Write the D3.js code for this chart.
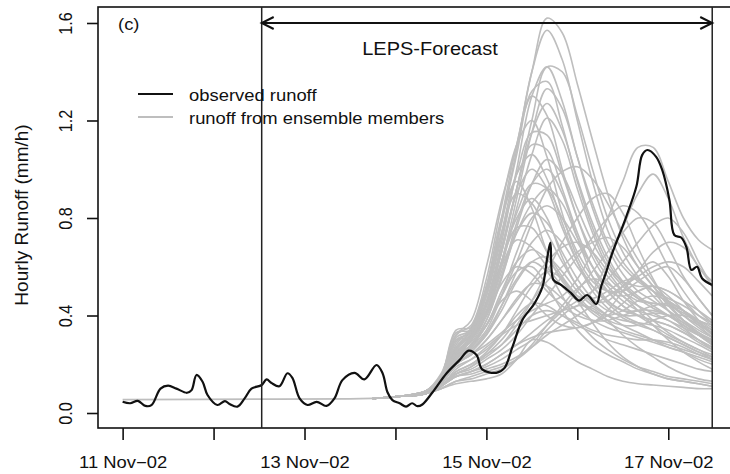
<!DOCTYPE html>
<html><head><meta charset="utf-8">
<script src="https://cdn.jsdelivr.net/npm/d3@7"></script>
<style>html,body{margin:0;padding:0;background:#fff;} svg{display:block;font-family:"Liberation Sans",Arial,sans-serif;}</style>
</head><body><svg id="c" width="730" height="474"></svg>
<script>
// ---- data ----
const dayTicks = [0, 24, 48, 72, 96, 120, 144];            // hours since 11 Nov-02 00:00
const dayLabels = ["11 Nov\u221202", "", "13 Nov\u221202", "", "15 Nov\u221202", "", "17 Nov\u221202"];
const yTicks = [0, 0.4, 0.8, 1.2, 1.6];
const yLabels = ["0.0", "0.4", "0.8", "1.2", "1.6"];
const forecastStart = 36.7, forecastEnd = 155.6;
const legendLabels = ["observed runoff", "runoff from ensemble members"];

const obsHours = [0,2,4,6,7.6,10,12,14.2,17,18.2,19.5,21.1,22.4,25,27,28.2,30.3,32.2,34,36.7,38,39.3,41.4,43.5,44.8,46.7,48.8,51.2,53.8,55.9,58,61.2,63.8,67,68.6,69.9,71.2,73.1,74.8,76.4,77.8,79.1,81.8,85.5,88.9,91.3,93.4,94.9,98.6,100.7,102.9,105.5,108.7,110.8,112.1,112.9,113.7,115.8,118.4,120.5,122.6,125,126.3,127.5,129.2,132.9,135.6,137.1,138.5,140.8,142.4,144.3,145.6,147.4,148.8,150.1,151.6,152.9,155.6];
const obsValues = [0.046,0.040,0.050,0.029,0.032,0.100,0.112,0.100,0.083,0.094,0.156,0.128,0.074,0.033,0.049,0.037,0.026,0.060,0.100,0.115,0.138,0.123,0.110,0.163,0.144,0.060,0.033,0.046,0.029,0.060,0.135,0.165,0.138,0.197,0.163,0.085,0.053,0.040,0.026,0.040,0.028,0.035,0.085,0.163,0.217,0.256,0.238,0.179,0.165,0.183,0.272,0.382,0.450,0.518,0.641,0.699,0.546,0.525,0.491,0.461,0.484,0.447,0.520,0.573,0.655,0.805,0.930,1.058,1.079,1.051,0.997,0.874,0.730,0.720,0.680,0.587,0.600,0.553,0.525];

const baseHours = [0, 36.7, 60, 66];
const baseValues = [0.055, 0.057, 0.058, 0.060];

const memberHours = [66,74,80,84,88,92,96,100,104,108,112,116,120,124,128,132,136,140,144,148,152,155.6];
const members = [
 [0.06,0.07,0.09,0.16,0.32,0.38,0.60,0.87,1.10,1.40,1.62,1.56,1.35,1.12,0.90,0.72,0.60,0.52,0.46,0.42,0.38,0.36],
 [0.06,0.07,0.08,0.13,0.26,0.34,0.50,0.78,1.08,1.40,1.57,1.45,1.20,0.95,0.75,0.62,0.55,0.50,0.45,0.40,0.36,0.33],
 [0.06,0.07,0.08,0.12,0.24,0.32,0.45,0.66,0.92,1.20,1.42,1.40,1.22,1.00,0.80,0.66,0.56,0.48,0.42,0.37,0.33,0.30],
 [0.06,0.07,0.09,0.14,0.30,0.33,0.46,0.70,1.00,1.30,1.42,1.28,1.05,0.84,0.68,0.57,0.50,0.46,0.42,0.38,0.34,0.31],
 [0.06,0.07,0.08,0.12,0.22,0.30,0.42,0.62,0.88,1.15,1.33,1.25,1.05,0.86,0.70,0.60,0.54,0.50,0.47,0.44,0.40,0.37],
 [0.06,0.07,0.08,0.13,0.25,0.31,0.44,0.66,0.92,1.15,1.27,1.16,0.96,0.78,0.64,0.54,0.48,0.44,0.40,0.36,0.32,0.29],
 [0.06,0.07,0.09,0.15,0.33,0.34,0.48,0.72,0.98,1.15,1.14,0.98,0.80,0.66,0.56,0.50,0.46,0.45,0.44,0.41,0.37,0.34],
 [0.06,0.07,0.08,0.13,0.24,0.30,0.44,0.66,0.92,1.10,1.08,0.92,0.74,0.60,0.50,0.44,0.40,0.36,0.32,0.29,0.26,0.24],
 [0.06,0.07,0.08,0.12,0.23,0.30,0.41,0.60,0.84,1.06,1.21,1.12,0.92,0.74,0.60,0.52,0.47,0.45,0.44,0.42,0.38,0.34],
 [0.06,0.07,0.09,0.14,0.28,0.35,0.52,0.78,1.06,1.32,1.36,1.18,0.95,0.76,0.62,0.53,0.47,0.43,0.40,0.36,0.32,0.29],
 [0.06,0.07,0.08,0.12,0.22,0.28,0.38,0.55,0.76,0.94,1.04,0.98,0.84,0.70,0.60,0.54,0.52,0.52,0.50,0.46,0.42,0.38],
 [0.06,0.07,0.08,0.13,0.26,0.32,0.45,0.68,0.90,1.00,0.92,0.76,0.62,0.52,0.45,0.40,0.37,0.34,0.31,0.28,0.25,0.23],
 [0.06,0.07,0.09,0.15,0.34,0.35,0.44,0.62,0.82,0.94,0.92,0.80,0.66,0.56,0.50,0.48,0.50,0.52,0.50,0.46,0.40,0.36],
 [0.06,0.07,0.08,0.14,0.27,0.34,0.50,0.74,0.90,0.86,0.74,0.62,0.52,0.45,0.40,0.36,0.33,0.30,0.27,0.25,0.23,0.21],
 [0.06,0.07,0.08,0.12,0.22,0.27,0.34,0.48,0.66,0.80,0.85,0.80,0.70,0.60,0.52,0.46,0.42,0.40,0.38,0.35,0.32,0.30],
 [0.06,0.07,0.08,0.13,0.25,0.30,0.40,0.58,0.74,0.82,0.78,0.66,0.55,0.47,0.42,0.40,0.40,0.41,0.40,0.37,0.33,0.30],
 [0.06,0.07,0.09,0.14,0.30,0.31,0.44,0.62,0.76,0.76,0.66,0.56,0.48,0.42,0.38,0.36,0.36,0.38,0.40,0.40,0.38,0.35],
 [0.06,0.07,0.08,0.12,0.21,0.26,0.32,0.44,0.58,0.70,0.75,0.70,0.60,0.52,0.46,0.42,0.40,0.38,0.36,0.33,0.30,0.27],
 [0.06,0.07,0.08,0.13,0.25,0.31,0.42,0.60,0.71,0.68,0.60,0.52,0.46,0.42,0.40,0.42,0.46,0.48,0.46,0.42,0.37,0.33],
 [0.06,0.07,0.08,0.12,0.23,0.28,0.36,0.50,0.62,0.67,0.63,0.55,0.47,0.41,0.37,0.34,0.32,0.30,0.28,0.26,0.24,0.22],
 [0.06,0.07,0.08,0.12,0.20,0.25,0.32,0.42,0.54,0.62,0.64,0.58,0.50,0.44,0.40,0.38,0.37,0.36,0.34,0.31,0.28,0.25],
 [0.06,0.07,0.08,0.13,0.24,0.30,0.40,0.53,0.60,0.57,0.50,0.44,0.40,0.38,0.38,0.40,0.42,0.42,0.40,0.36,0.32,0.28],
 [0.06,0.07,0.09,0.14,0.27,0.32,0.40,0.56,0.74,0.86,0.92,0.86,0.72,0.60,0.50,0.44,0.40,0.38,0.36,0.33,0.29,0.26],
 [0.06,0.07,0.08,0.13,0.26,0.33,0.48,0.74,0.98,1.06,0.96,0.78,0.62,0.50,0.43,0.39,0.36,0.34,0.31,0.28,0.25,0.22],
 [0.06,0.07,0.08,0.12,0.20,0.24,0.30,0.38,0.47,0.53,0.52,0.47,0.42,0.38,0.35,0.33,0.31,0.29,0.27,0.25,0.22,0.20],
 [0.06,0.07,0.08,0.12,0.19,0.22,0.26,0.32,0.40,0.45,0.44,0.40,0.36,0.33,0.30,0.28,0.26,0.24,0.22,0.20,0.18,0.17],
 [0.06,0.07,0.08,0.11,0.17,0.20,0.24,0.28,0.34,0.40,0.42,0.40,0.37,0.34,0.32,0.31,0.30,0.30,0.29,0.27,0.24,0.22],
 [0.06,0.07,0.08,0.10,0.12,0.13,0.14,0.16,0.22,0.30,0.29,0.25,0.21,0.18,0.15,0.13,0.12,0.115,0.11,0.105,0.10,0.10],
 [0.06,0.07,0.08,0.12,0.22,0.27,0.36,0.48,0.58,0.60,0.52,0.42,0.34,0.28,0.24,0.21,0.18,0.16,0.14,0.13,0.12,0.11],
 [0.06,0.07,0.08,0.12,0.21,0.26,0.33,0.44,0.55,0.62,0.58,0.48,0.38,0.31,0.26,0.22,0.19,0.17,0.15,0.14,0.13,0.12],
 [0.06,0.07,0.08,0.12,0.20,0.24,0.28,0.33,0.38,0.42,0.45,0.48,0.55,0.66,0.80,0.95,1.09,1.09,0.95,0.80,0.71,0.67],
 [0.06,0.07,0.08,0.11,0.18,0.22,0.27,0.32,0.36,0.38,0.40,0.42,0.44,0.50,0.62,0.76,0.90,0.98,0.88,0.72,0.60,0.54],
 [0.06,0.07,0.08,0.12,0.22,0.28,0.36,0.48,0.62,0.78,0.92,0.99,1.01,0.96,0.86,0.74,0.63,0.54,0.46,0.40,0.35,0.31],
 [0.06,0.07,0.08,0.11,0.16,0.18,0.22,0.26,0.32,0.40,0.48,0.56,0.64,0.72,0.80,0.85,0.82,0.72,0.60,0.50,0.42,0.37],
 [0.06,0.07,0.08,0.11,0.15,0.17,0.19,0.22,0.26,0.30,0.36,0.42,0.50,0.58,0.66,0.74,0.80,0.78,0.68,0.56,0.47,0.40],
 [0.06,0.07,0.08,0.11,0.16,0.19,0.24,0.30,0.38,0.46,0.54,0.60,0.66,0.70,0.72,0.68,0.60,0.52,0.44,0.38,0.33,0.29],
 [0.06,0.07,0.08,0.11,0.15,0.16,0.18,0.20,0.23,0.27,0.32,0.36,0.40,0.44,0.48,0.52,0.56,0.60,0.62,0.60,0.54,0.48],
 [0.06,0.07,0.08,0.10,0.13,0.14,0.16,0.18,0.22,0.28,0.36,0.44,0.51,0.55,0.53,0.48,0.42,0.36,0.30,0.25,0.21,0.18],
 [0.06,0.07,0.08,0.10,0.13,0.15,0.17,0.19,0.22,0.27,0.34,0.40,0.44,0.43,0.38,0.32,0.27,0.23,0.19,0.16,0.14,0.13],
 [0.06,0.07,0.08,0.11,0.15,0.17,0.20,0.24,0.28,0.31,0.33,0.34,0.35,0.37,0.40,0.45,0.50,0.52,0.48,0.42,0.36,0.31],
 [0.06,0.07,0.09,0.15,0.31,0.34,0.52,0.80,0.95,0.84,0.66,0.54,0.48,0.47,0.50,0.54,0.55,0.50,0.42,0.35,0.30,0.26],
 [0.06,0.07,0.08,0.13,0.25,0.29,0.40,0.62,0.80,0.88,0.80,0.64,0.52,0.46,0.46,0.52,0.58,0.62,0.56,0.46,0.38,0.32],
 [0.06,0.07,0.09,0.15,0.32,0.36,0.55,0.85,1.10,1.20,1.05,0.82,0.64,0.54,0.50,0.50,0.54,0.58,0.60,0.55,0.47,0.40],
 [0.06,0.07,0.08,0.11,0.16,0.19,0.23,0.28,0.36,0.46,0.58,0.70,0.80,0.88,0.90,0.82,0.68,0.55,0.45,0.38,0.32,0.28],
 [0.06,0.07,0.08,0.12,0.20,0.24,0.30,0.38,0.46,0.54,0.62,0.68,0.70,0.66,0.58,0.50,0.44,0.38,0.33,0.29,0.26,0.23],
 [0.06,0.07,0.08,0.12,0.22,0.28,0.36,0.46,0.50,0.46,0.40,0.36,0.35,0.37,0.42,0.50,0.58,0.66,0.70,0.68,0.60,0.52],
 [0.06,0.07,0.08,0.12,0.23,0.28,0.38,0.56,0.78,0.94,1.00,0.90,0.72,0.56,0.46,0.42,0.42,0.44,0.45,0.42,0.37,0.32],
 [0.06,0.07,0.08,0.11,0.17,0.20,0.25,0.32,0.42,0.52,0.58,0.55,0.46,0.37,0.29,0.23,0.19,0.16,0.14,0.13,0.12,0.11],
 [0.06,0.07,0.09,0.14,0.29,0.34,0.50,0.80,1.10,1.30,1.22,1.00,0.80,0.64,0.54,0.48,0.44,0.41,0.38,0.34,0.30,0.27],
 [0.06,0.07,0.08,0.11,0.15,0.17,0.20,0.24,0.28,0.33,0.38,0.42,0.46,0.50,0.55,0.62,0.70,0.77,0.80,0.74,0.62,0.52]
];

// ---- drawing ----
const W = 730, H = 474;
const svg = d3.select("#c");
const x = d3.scaleLinear().domain([-6.5, 169]).range([98, 763]);
const y = d3.scaleLinear().domain([-0.0615, 1.6656]).range([428, 7]);
const GREY = "#bebebe";
const FS = 18.4, VS = 0.88;

svg.append("defs").append("clipPath").attr("id", "clip")
  .append("rect").attr("x", x.range()[0]).attr("y", y.range()[1])
  .attr("width", W - x.range()[0]).attr("height", y.range()[0] - y.range()[1]);

const line = d3.line().x(d => x(d[0])).y(d => y(d[1])).curve(d3.curveCatmullRom.alpha(0.5));
const plot = svg.append("g").attr("clip-path", "url(#clip)");

plot.append("path").datum(baseHours.map((h, i) => [h, baseValues[i]]))
  .attr("d", line).attr("fill", "none").attr("stroke", GREY).attr("stroke-width", 1.8);
plot.selectAll("path.member").data(members).join("path").attr("class", "member")
  .attr("d", m => line(memberHours.map((h, i) => [h, m[i]])))
  .attr("fill", "none").attr("stroke", GREY).attr("stroke-width", 1.6).attr("stroke-linejoin", "round");
plot.append("path").datum(obsHours.map((h, i) => [h, obsValues[i]]))
  .attr("d", line).attr("fill", "none").attr("stroke", "#111").attr("stroke-width", 2.2).attr("stroke-linejoin", "round");

// box
svg.append("rect").attr("x", x.range()[0]).attr("y", y.range()[1])
  .attr("width", x.range()[1] - x.range()[0]).attr("height", y.range()[0] - y.range()[1])
  .attr("fill", "none").attr("stroke", "#111").attr("stroke-width", 1.6);

// axes
const xAxis = d3.axisBottom(x).tickValues(dayTicks).tickSize(12)
  .tickFormat((d, i) => dayLabels[i]);
const gx = svg.append("g").attr("transform", `translate(0,${y.range()[0]})`).call(xAxis);
gx.select(".domain").remove();
gx.selectAll(".tick line").attr("stroke", "#111").attr("stroke-width", 1.6);
gx.selectAll(".tick text").attr("y", 0).attr("dy", null)
  .attr("transform", `translate(0,40) scale(1,${VS})`)
  .attr("font-size", FS).attr("font-family", "Liberation Sans, Arial, sans-serif").attr("fill", "#111");

const yAxis = d3.axisLeft(y).tickValues(yTicks).tickSize(11)
  .tickFormat((d, i) => yLabels[i]);
const gy = svg.append("g").attr("transform", `translate(${x.range()[0]},0)`).call(yAxis);
gy.select(".domain").remove();
gy.selectAll(".tick line").attr("stroke", "#111").attr("stroke-width", 1.6);
gy.selectAll(".tick text").attr("x", 0).attr("y", 0).attr("dy", null)
  .attr("text-anchor", "middle")
  .attr("transform", `translate(-26,0) rotate(-90) scale(${VS},1)`)
  .attr("font-size", FS).attr("font-family", "Liberation Sans, Arial, sans-serif").attr("fill", "#111");

// y title
svg.append("text").attr("text-anchor", "middle")
  .attr("transform", `translate(28,215) rotate(-90)`)
  .attr("font-size", 19).attr("fill", "#111").text("Hourly Runoff (mm/h)");

// panel letter
svg.append("text").attr("transform", `translate(118,29.5) scale(1,${VS})`)
  .attr("font-size", FS).attr("fill", "#111").text("(c)");

// forecast window
const xs = x(forecastStart), xe = x(forecastEnd), ya = y(1.6);
[xs, xe].forEach(xx => svg.append("line").attr("x1", xx).attr("x2", xx)
  .attr("y1", y.range()[1]).attr("y2", y.range()[0]).attr("stroke", "#222").attr("stroke-width", 1.5));
svg.append("line").attr("x1", xs).attr("x2", xe).attr("y1", ya).attr("y2", ya)
  .attr("stroke", "#111").attr("stroke-width", 2);
svg.append("path").attr("d", `M${xe - 12},${ya - 6}L${xe},${ya}L${xe - 12},${ya + 6}`)
  .attr("fill", "none").attr("stroke", "#111").attr("stroke-width", 2);
svg.append("path").attr("d", `M${xs + 12},${ya - 6}L${xs},${ya}L${xs + 12},${ya + 6}`)
  .attr("fill", "none").attr("stroke", "#111").attr("stroke-width", 2);
svg.append("text").attr("text-anchor", "middle")
  .attr("transform", `translate(430,55) scale(1,${VS})`)
  .attr("font-size", 20).attr("fill", "#111").text("LEPS-Forecast");

// legend
const lg = svg.append("g");
[["#111", 2.2, 94], [GREY, 2, 117]].forEach(([c, w, yy]) =>
  lg.append("line").attr("x1", 138).attr("x2", 173).attr("y1", yy).attr("y2", yy)
    .attr("stroke", c).attr("stroke-width", w));
legendLabels.forEach((t, i) => lg.append("text")
  .attr("transform", `translate(189,${[100.5, 124][i]}) scale(1,${VS})`)
  .attr("font-size", FS).attr("fill", "#111").text(t));
</script></body></html>
